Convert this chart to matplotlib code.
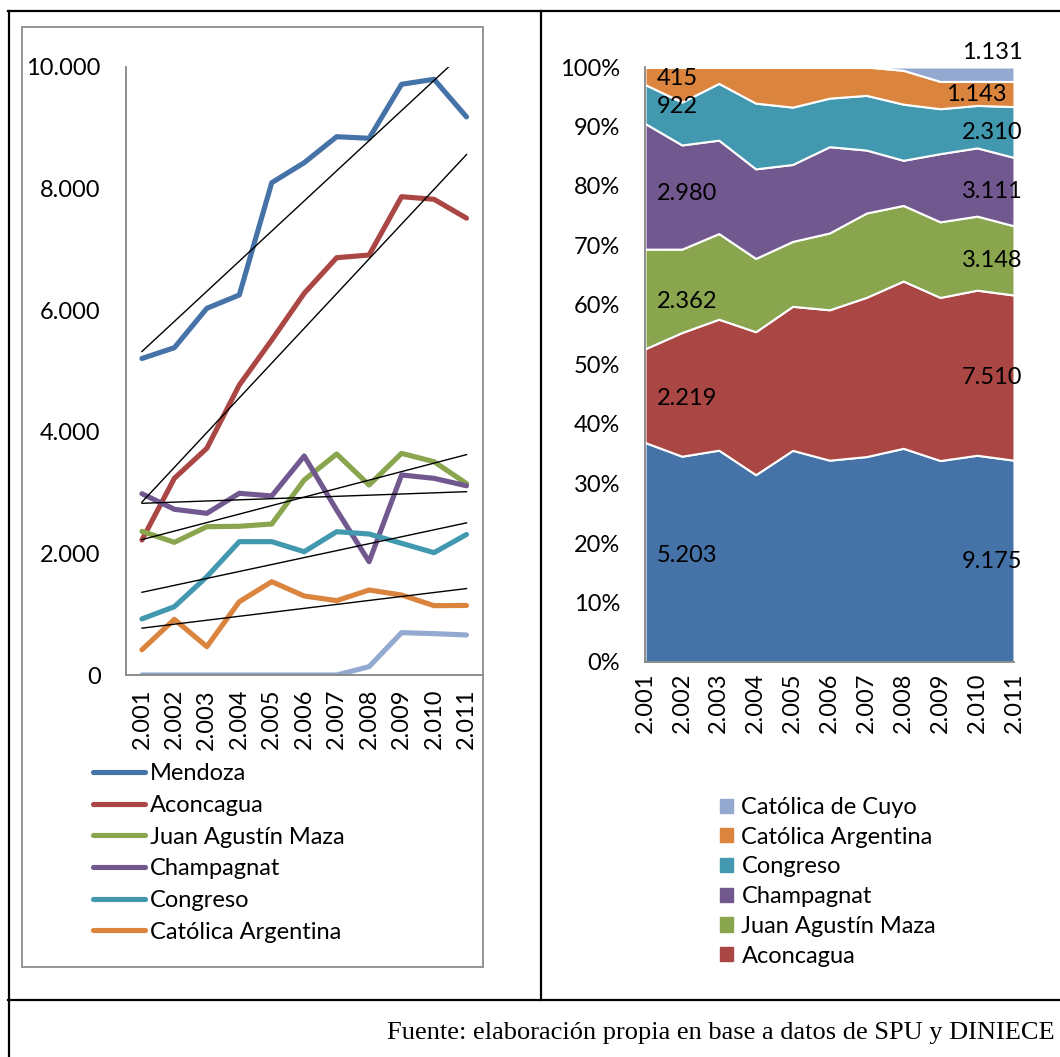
import numpy as np
import matplotlib
matplotlib.use('Agg')
import matplotlib.pyplot as plt
from matplotlib.lines import Line2D
from matplotlib.patches import Patch, Rectangle
from matplotlib.ticker import FuncFormatter

plt.rcParams['font.family'] = ['Lato', 'DejaVu Sans']

# Data (students per university, 2001-2011)
years = ['2.001', '2.002', '2.003', '2.004', '2.005', '2.006',
         '2.007', '2.008', '2.009', '2.010', '2.011']
mendoza = [5203, 5381, 6028, 6247, 8093, 8422, 8849, 8823, 9711, 9793, 9175]
aconcagua = [2219, 3234, 3727, 4767, 5507, 6275, 6860, 6904, 7863, 7820, 7510]
juan_agustin_maza = [2362, 2181, 2438, 2445, 2482, 3206, 3633, 3123, 3644, 3507, 3148]
champagnat = [2980, 2724, 2658, 2987, 2943, 3600, 2712, 1863, 3288, 3233, 3111]
congreso = [922, 1123, 1616, 2192, 2192, 2027, 2356, 2318, 2165, 2011, 2310]
catolica_argentina = [415, 915, 466, 1205, 1534, 1299, 1222, 1397, 1315, 1140, 1143]
catolica_cuyo = [0, 0, 0, 0, 0, 0, 0, 137, 696, 680, 658]

names = ['Mendoza', 'Aconcagua', 'Juan Agustín Maza', 'Champagnat',
         'Congreso', 'Católica Argentina', 'Católica de Cuyo']
series = [mendoza, aconcagua, juan_agustin_maza, champagnat,
          congreso, catolica_argentina, catolica_cuyo]
colors = ['#4572A7', '#AA4643', '#89A54E', '#71588F',
          '#4198AF', '#DB843D', '#93A9CF']

# labels on the 100% chart (first and last year)
first_labels = ['5.203', '2.219', '2.362', '2.980', '922', '415', None]
last_labels = ['9.175', '7.510', '3.148', '3.111', '2.310', '1.143', '1.131']

W, H = 1060, 1057
def fx(px):
    return px / W
def fy(py):
    return 1 - py / H

FS = 17
fig = plt.figure(figsize=(W / 100, H / 100), dpi=100)

# table borders
tbl = dict(color='black', lw=1.6, transform=fig.transFigure)
fig.add_artist(Line2D([fx(8), fx(1060)], [fy(10.5), fy(10.5)], **tbl))
fig.add_artist(Line2D([fx(8.5), fx(8.5)], [fy(10.5), fy(1057)], **tbl))
fig.add_artist(Line2D([fx(540.5), fx(540.5)], [fy(10.5), fy(1000)], **tbl))
fig.add_artist(Line2D([fx(8), fx(1060)], [fy(1000), fy(1000)], **tbl))

# gray chart frame around left chart
fig.add_artist(Rectangle((fx(22), fy(967)), fx(483) - fx(22), fy(27) - fy(967),
                         fill=False, ec='#8c8c8c', lw=1.3, transform=fig.transFigure))

x = np.arange(len(years))
gray = '#868686'

# ---- left: line chart with trend lines
ax1 = fig.add_axes([fx(125.7), fy(675), (482.7 - 125.7) / W, (675 - 66.7) / H])
handles = []
for name, vals, c in zip(names, series, colors):
    ln, = ax1.plot(x, vals, color=c, lw=3.7, solid_capstyle='round',
                   solid_joinstyle='round', label=name)
    handles.append(ln)
for vals in series[:6]:
    k = np.polyfit(x, vals, 1)
    ax1.plot(x, np.polyval(k, x), color='black', lw=1.0)

ax1.set_xlim(-0.5, 10.5)
ax1.set_ylim(0, 10000)
ax1.set_yticks(range(0, 10001, 2000))
ax1.yaxis.set_major_formatter(FuncFormatter(lambda v, p: f'{int(v):,}'.replace(',', '.')))
ax1.set_xticks(x)
ax1.set_xticklabels(years, rotation=90, va='top')
ax1.tick_params(axis='y', length=0, pad=18, labelsize=FS)
ax1.tick_params(axis='x', length=0, pad=10, labelsize=FS)
for s in ['top', 'right']:
    ax1.spines[s].set_visible(False)
for s in ['left', 'bottom']:
    ax1.spines[s].set_color(gray)
    ax1.spines[s].set_linewidth(1.3)

fig.legend(handles[:6], names[:6], loc='upper left',
           bbox_to_anchor=(fx(93), fy(763.5)), frameon=False, fontsize=FS,
           borderpad=0, borderaxespad=0, handlelength=2.2, handletextpad=0.22,
           labelspacing=0.45)

# ---- right: 100% stacked area
ax2 = fig.add_axes([fx(645), fy(662), 369 / W, 595 / H])
arr = np.array(series, dtype=float)
frac = arr / arr.sum(axis=0)
ax2.stackplot(x, *frac, colors=colors, edgecolor='white', linewidth=1.5)
ax2.set_xlim(0, 10)
ax2.set_ylim(0, 1)
ax2.set_yticks(np.linspace(0, 1, 11))
ax2.yaxis.set_major_formatter(FuncFormatter(lambda v, p: f'{v * 100:.0f}%'))
ax2.set_xticks(x)
ax2.set_xticklabels(years, rotation=90, va='top')
ax2.tick_params(axis='y', length=0, pad=18, labelsize=FS)
ax2.tick_params(axis='x', length=0, pad=7.5, labelsize=FS)
for s in ['top', 'right']:
    ax2.spines[s].set_visible(False)
for s in ['left', 'bottom']:
    ax2.spines[s].set_color(gray)
    ax2.spines[s].set_linewidth(1.3)

cum = np.cumsum(frac, axis=0)
mid = cum - frac / 2
first_dy = [-2, -2, -2, -5, -2, -2, 0]
for i, lab in enumerate(first_labels):
    if lab:
        ax2.annotate(lab, (0, mid[i, 0]), xytext=(8.5, first_dy[i]), textcoords='offset points',
                     ha='left', va='center', fontsize=FS)
last_dx = [6, 6, 6, 6, 6, -5, 6]
last_dy = [0, 0, 0, 0, 0, 0, 16]
for i, lab in enumerate(last_labels):
    ax2.annotate(lab, (10, mid[i, 10]), xytext=(last_dx[i], last_dy[i]),
                 textcoords='offset points', ha='right', va='center',
                 fontsize=FS, annotation_clip=False)

rev = list(range(6, 0, -1))
fig.legend([Patch(color=colors[i]) for i in rev], [names[i] for i in rev],
           loc='upper left', bbox_to_anchor=(fx(720), fy(797)), frameon=False,
           fontsize=FS, borderpad=0, borderaxespad=0, handlelength=0.55,
           handleheight=0.55, handletextpad=0.36, labelspacing=0.37)

fig.text(fx(1055), fy(1033), 'Fuente: elaboración propia en base a datos de SPU y DINIECE',
         ha='right', va='center', fontsize=19,
         family=['Liberation Serif', 'DejaVu Serif'])

fig.savefig('out.png', dpi=100)
